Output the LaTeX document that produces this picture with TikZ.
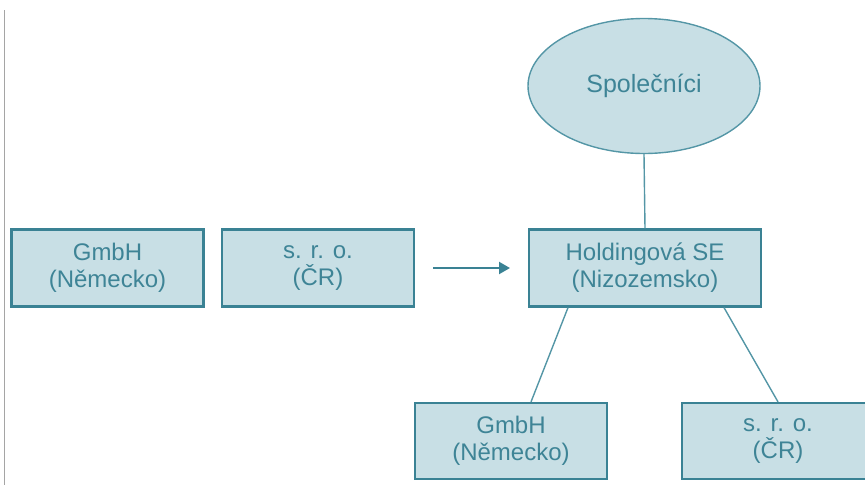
\documentclass[tikz,border=0pt]{standalone}
\usepackage{fontspec}
\setmainfont{Liberation Sans}
\usetikzlibrary{shapes.geometric,arrows.meta}
\definecolor{boxfill}{RGB}{200,223,229}
\definecolor{boxline}{RGB}{58,130,148}
\definecolor{txt}{RGB}{62,132,150}
\definecolor{conn}{RGB}{84,150,166}
\definecolor{edge}{RGB}{165,165,165}
\tikzset{
  firm/.style={draw=boxline, line width=2.2pt, fill=boxfill, rectangle,
    minimum width=192pt, minimum height=77pt, inner sep=0pt,
    align=center, text=txt, font=\fontsize{24}{27}\selectfont},
  owners/.style={draw=conn, line width=1.4pt, fill=boxfill, ellipse,
    minimum width=232pt, minimum height=135pt, inner sep=0pt,
    text=txt, font=\fontsize{25}{28}\selectfont},
  link/.style={draw=conn, line width=1.4pt},
  flow/.style={draw=boxline, line width=2.2pt, -{Triangle[length=11pt,width=12pt]}}
}
\begin{document}
\begin{tikzpicture}[x=1pt,y=-1pt]
\useasboundingbox (0,0) rectangle (865,485);
\draw[edge, line width=1pt] (4.5,10) -- (4.5,485);
\node[firm] (gmbhA) at (107.5,268) {GmbH\\(Německo)};
\node[firm] (sroA) at (318,268) {s. r. o.\\(ČR)};
\node[firm, minimum width=232pt] (hold) at (645,268) {Holdingová SE\\(Nizozemsko)};
\node[owners] (spol) at (644,86) {Společníci};
\node[firm, minimum height=76pt] (gmbhB) at (511,441) {GmbH\\(Německo)};
\node[firm, minimum height=76pt] (sroB) at (778,441) {s. r. o.\\(ČR)};
\coordinate (aS) at (433,268);
\coordinate (aE) at (510,268);
\draw[flow] (aS) -- (aE);
\draw[link] (spol.south) -- (hold.north);
\draw[link] ([xshift=-77pt]hold.south) -- ([xshift=20pt]gmbhB.north);
\draw[link] ([xshift=79pt]hold.south) -- (sroB.north);
\end{tikzpicture}
\end{document}
